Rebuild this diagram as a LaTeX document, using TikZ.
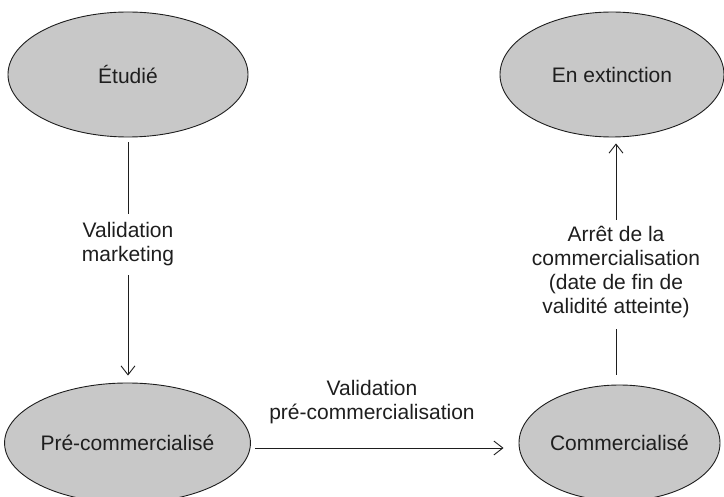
\documentclass[tikz,border=0pt]{standalone}
\usepackage{fontspec}
\setmainfont{Liberation Sans}
\usetikzlibrary{shapes.geometric,arrows.meta,calc}
\definecolor{statefill}{RGB}{200,200,200}
\definecolor{ink}{RGB}{30,30,30}
\begin{document}
\begin{tikzpicture}[x=1pt,y=-1pt,
  state/.style={ellipse, draw=ink, line width=0.9pt, fill=statefill,
    inner sep=0pt, font=\fontsize{21}{24}\selectfont, text=ink},
  lbl/.style={font=\fontsize{21}{24.3}\selectfont, align=center,
    text=ink, inner sep=0pt},
  link/.style={draw=ink, line width=0.9pt},
  arr/.style={link, -{Straight Barb[length=9pt,width=14pt]}}]
\useasboundingbox (0,0) rectangle (724,497);

% states
\node[state, minimum width=240, minimum height=125] (etu) at (128,74.5) {Étudié};
\node[state, minimum width=224, minimum height=125] (ext) at (612,74.5) {En extinction};
\node[state, minimum width=231, minimum height=120] (pre) at (127.5,443) {Pré-commercialisé};
\node[state, minimum width=201, minimum height=116] (com) at (619.5,443) {Commercialisé};

% transition labels
\node[lbl] (mk) at (128,244) {Validation\\marketing};
\node[lbl] (ar) at (616,272) {Arrêt de la\\commercialisation\\(date de fin de\\validité atteinte)};
\node[lbl] (pc) at (372,402) {Validation\\pré-commercialisation};

% transitions
\draw[link, shorten <=5pt, shorten >=8pt] (etu.south -| mk) -- (mk.north);
\draw[arr, shorten <=9pt, shorten >=7pt] (mk.south) -- (pre.north -| mk);
\draw[link, shorten <=10pt, shorten >=11pt] (com.north -| ar) -- (ar.south);
\draw[arr, shorten <=6pt, shorten >=6pt] (ar.north) -- (ext.south -| ar);
\draw[arr] ($(pre.east)+(4,5)$) -- ($(com.west)+(-15,5)$);
\end{tikzpicture}
\end{document}
